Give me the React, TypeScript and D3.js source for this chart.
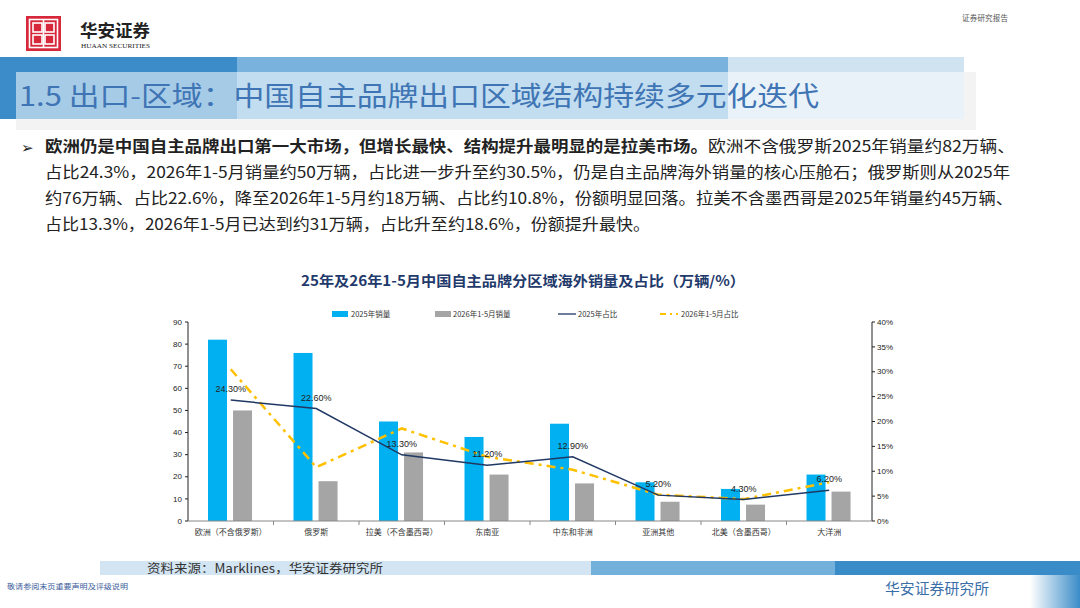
import * as d3 from 'd3';

// chart data
const regions = [
  '欧洲（不含俄罗斯）',
  '俄罗斯',
  '拉美（不含墨西哥）',
  '东南亚',
  '中东和非洲',
  '亚洲其他',
  '北美（含墨西哥）',
  '大洋洲',
];
const sales2025 = [82, 76, 45, 38, 44, 17.5, 14.5, 21];
const sales2026 = [50, 18, 31, 21, 17, 8.7, 7.4, 13.3];
const share2025 = [24.3, 22.6, 13.3, 11.2, 12.9, 5.2, 4.3, 6.2];
const share2026 = [30.5, 10.8, 18.6, 12.9, 10.3, 5.3, 4.4, 7.8];
const leftTicks = [0, 10, 20, 30, 40, 50, 60, 70, 80, 90];
const rightTicks = [0, 5, 10, 15, 20, 25, 30, 35, 40];

const bodyLines = [
  '占比24.3%，2026年1-5月销量约50万辆，占比进一步升至约30.5%，仍是自主品牌海外销量的核心压舱石；俄罗斯则从2025年',
  '约76万辆、占比22.6%，降至2026年1-5月约18万辆、占比约10.8%，份额明显回落。拉美不含墨西哥是2025年销量约45万辆、',
  '占比13.3%，2026年1-5月已达到约31万辆，占比升至约18.6%，份额提升最快。',
];

const CJK = '"Noto Sans CJK SC", "Noto Sans", sans-serif';
const LAT = '"Liberation Sans", Arial, sans-serif';

const C_BLUE = '#00b0f0';
const C_GRAY = '#a5a5a5';
const C_NAVY = '#203864';
const C_GOLD = '#ffc000';

export default function App() {
  const W = 1080;
  const H = 608;
  const plot = { left: 188, right: 872, top: 322, bottom: 521 };

  const x = d3.scaleBand<string>().domain(regions).range([plot.left, plot.right]).padding(0);
  const bw = x.bandwidth();
  const inner = d3
    .scaleBand<string>()
    .domain(['s25', 's26'])
    .range([bw * 0.234, bw * 0.749])
    .paddingInner(0.24);
  const yL = d3.scaleLinear().domain([0, 90]).range([plot.bottom, plot.top]);
  const yR = d3.scaleLinear().domain([0, 40]).range([plot.bottom, plot.top]);

  const cx = (d: string) => (x(d) || 0) + bw / 2;
  const line25 = d3
    .line<number>()
    .x((_, i) => cx(regions[i]))
    .y((d) => yR(d));

  return (
    <div style={{ position: 'fixed', left: 0, top: 0, background: '#fff' }}>
      <svg width={W} height={H} style={{ display: 'block' }}>
        <rect width={W} height={H} fill="#fff" />

        {/* header logo */}
        <rect x={26} y={16} width={35} height={35} fill="#d7283b" />
        <g stroke="#fff" strokeWidth={1.6} fill="none">
          <rect x={29.5} y={19.5} width={28} height={28} />
          <rect x={33} y={23} width={9} height={9} />
          <rect x={45} y={23} width={9} height={9} />
          <rect x={33} y={35} width={9} height={9} />
          <rect x={45} y={35} width={9} height={9} />
          <line x1={43.5} y1={19.5} x2={43.5} y2={47.5} />
        </g>
        <text x={80} y={37} fontFamily={CJK} fontSize={17} fontWeight={700} fill="#222" textLength={70} lengthAdjust="spacingAndGlyphs">
          华安证券
        </text>
        <text x={81} y={48} fontFamily='"Liberation Serif", serif' fontSize={6.5} fill="#222" textLength={69} lengthAdjust="spacingAndGlyphs">
          HUAAN SECURITIES
        </text>
        <text x={962} y={21} fontFamily={CJK} fontSize={7.5} fill="#555" textLength={46}>
          证券研究报告
        </text>

        {/* title band */}
        <rect x={16} y={72} width={960} height={58} fill="#f3f3f3" />
        <rect x={0} y={57} width={237} height={62} fill="#3b8cc9" />
        <rect x={237} y={57} width={491} height={62} fill="#79b3dd" />
        <rect x={728} y={57} width={236} height={62} fill="#cfe3f1" />
        <rect x={16} y={72} width={948} height={47} fill="#fff" fillOpacity={0.55} />
        <text x={19} y={106} fontFamily={CJK} fontSize={27} fill="#3f75b4" textLength={800} lengthAdjust="spacingAndGlyphs">
          1.5 出口-区域：中国自主品牌出口区域结构持续多元化迭代
        </text>

        {/* bullet text */}
        <text x={21} y={153} fontFamily='"DejaVu Sans", sans-serif' fontSize={15} fill="#222">
          ➢
        </text>
        <text x={45} y={152} fontFamily={CJK} fontSize={15.5} fontWeight={700} fill="#222" textLength={663} lengthAdjust="spacingAndGlyphs">
          欧洲仍是中国自主品牌出口第一大市场，但增长最快、结构提升最明显的是拉美市场。
        </text>
        <text x={708} y={152} fontFamily={CJK} fontSize={15.5} fill="#222" textLength={307} lengthAdjust="spacingAndGlyphs">
          欧洲不含俄罗斯2025年销量约82万辆、
        </text>
        {bodyLines.map((t, i) => (
          <text
            key={i}
            x={45}
            y={178 + i * 26}
            fontFamily={CJK}
            fontSize={15.5}
            fill="#222"
            textLength={[965, 968, 605][i]}
            lengthAdjust="spacingAndGlyphs"
          >
            {t}
          </text>
        ))}

        {/* chart title */}
        <text x={301} y={286} fontFamily={CJK} fontSize={14} fontWeight={700} fill="#1f3a6b" textLength={444} lengthAdjust="spacingAndGlyphs">
          25年及26年1-5月中国自主品牌分区域海外销量及占比（万辆/%）
        </text>

        {/* legend */}
        <g fontFamily={CJK} fontSize={7.5} fill="#333">
          <rect x={332} y={311} width={16} height={6} fill={C_BLUE} />
          <text x={351} y={317}>2025年销量</text>
          <rect x={435} y={311} width={16} height={6} fill={C_GRAY} />
          <text x={453} y={317}>2026年1-5月销量</text>
          <line x1={558} x2={576} y1={314} y2={314} stroke={C_NAVY} strokeWidth={1.3} />
          <text x={578} y={317}>2025年占比</text>
          <line x1={660} x2={678} y1={314} y2={314} stroke={C_GOLD} strokeWidth={2} strokeDasharray="6 4 2 4" />
          <text x={681} y={317}>2026年1-5月占比</text>
        </g>

        {/* bars */}
        {regions.map((r, i) => (
          <g key={r} transform={`translate(${x(r)},0)`}>
            <rect x={inner('s25')} y={yL(sales2025[i])} width={inner.bandwidth()} height={yL(0) - yL(sales2025[i])} fill={C_BLUE} />
            <rect x={inner('s26')} y={yL(sales2026[i])} width={inner.bandwidth()} height={yL(0) - yL(sales2026[i])} fill={C_GRAY} />
          </g>
        ))}

        {/* share lines */}
        <path d={line25(share2026) || ''} fill="none" stroke={C_GOLD} strokeWidth={2.5} strokeDasharray="9 5 3 5" />
        <path d={line25(share2025) || ''} fill="none" stroke={C_NAVY} strokeWidth={1.5} />

        {/* data labels */}
        {share2025.map((v, i) => (
          <text key={i} x={cx(regions[i])} y={yR(v) - 8} textAnchor="middle" fontFamily={LAT} fontSize={9} fill="#222">
            {v.toFixed(2)}%
          </text>
        ))}

        {/* left axis */}
        <line x1={plot.left} x2={plot.left} y1={plot.top} y2={plot.bottom} stroke="#222" strokeWidth={1} />
        {leftTicks.map((t) => (
          <g key={t} transform={`translate(${plot.left},${yL(t)})`}>
            <line x1={-3} x2={0} stroke="#222" />
            <text x={-6} dy="0.33em" textAnchor="end" fontFamily={LAT} fontSize={8} fill="#222">
              {t}
            </text>
          </g>
        ))}

        {/* right axis */}
        <line x1={plot.right} x2={plot.right} y1={plot.top} y2={plot.bottom} stroke="#222" strokeWidth={1} />
        {rightTicks.map((t) => (
          <g key={t} transform={`translate(${plot.right},${yR(t)})`}>
            <line x1={0} x2={3} stroke="#222" />
            <text x={5} dy="0.33em" fontFamily={LAT} fontSize={8} fill="#222">
              {t}%
            </text>
          </g>
        ))}

        {/* x axis */}
        <line x1={plot.left} x2={plot.right} y1={plot.bottom} y2={plot.bottom} stroke="#888" strokeWidth={1.2} />
        {regions.map((r, i) => (
          <g key={r}>
            {i > 0 && <line x1={x(r)} x2={x(r)} y1={plot.bottom} y2={plot.bottom + 4} stroke="#888" />}
            <text x={cx(r)} y={plot.bottom + 14} textAnchor="middle" fontFamily={CJK} fontSize={8} fill="#333">
              {r}
            </text>
          </g>
        ))}

        {/* footer */}
        <rect x={100} y={561} width={491} height={14} fill="#d3e5f2" />
        <rect x={591} y={561} width={244} height={14} fill="#74b0dc" />
        <rect x={835} y={561} width={245} height={14} fill="#3a8cc8" />
        <text x={147} y={573} fontFamily={CJK} fontSize={12.5} fill="#333" textLength={236} lengthAdjust="spacingAndGlyphs">
          资料来源：Marklines，华安证券研究所
        </text>
        <text x={7} y={589} fontFamily={CJK} fontSize={7} fill="#3b5c9a" textLength={121} lengthAdjust="spacingAndGlyphs">
          敬请参阅末页重要声明及评级说明
        </text>
        <text x={885} y={594} fontFamily={CJK} fontSize={15} fill="#3a6ea8" textLength={104} lengthAdjust="spacingAndGlyphs">
          华安证券研究所
        </text>
        <defs>
          <linearGradient id="edge" x1="0" x2="1" y1="0" y2="0">
            <stop offset="0" stopColor="#ffffff" />
            <stop offset="1" stopColor="#3a8cc8" />
          </linearGradient>
        </defs>
        <rect x={1030} y={575} width={50} height={33} fill="url(#edge)" />
      </svg>
    </div>
  );
}
